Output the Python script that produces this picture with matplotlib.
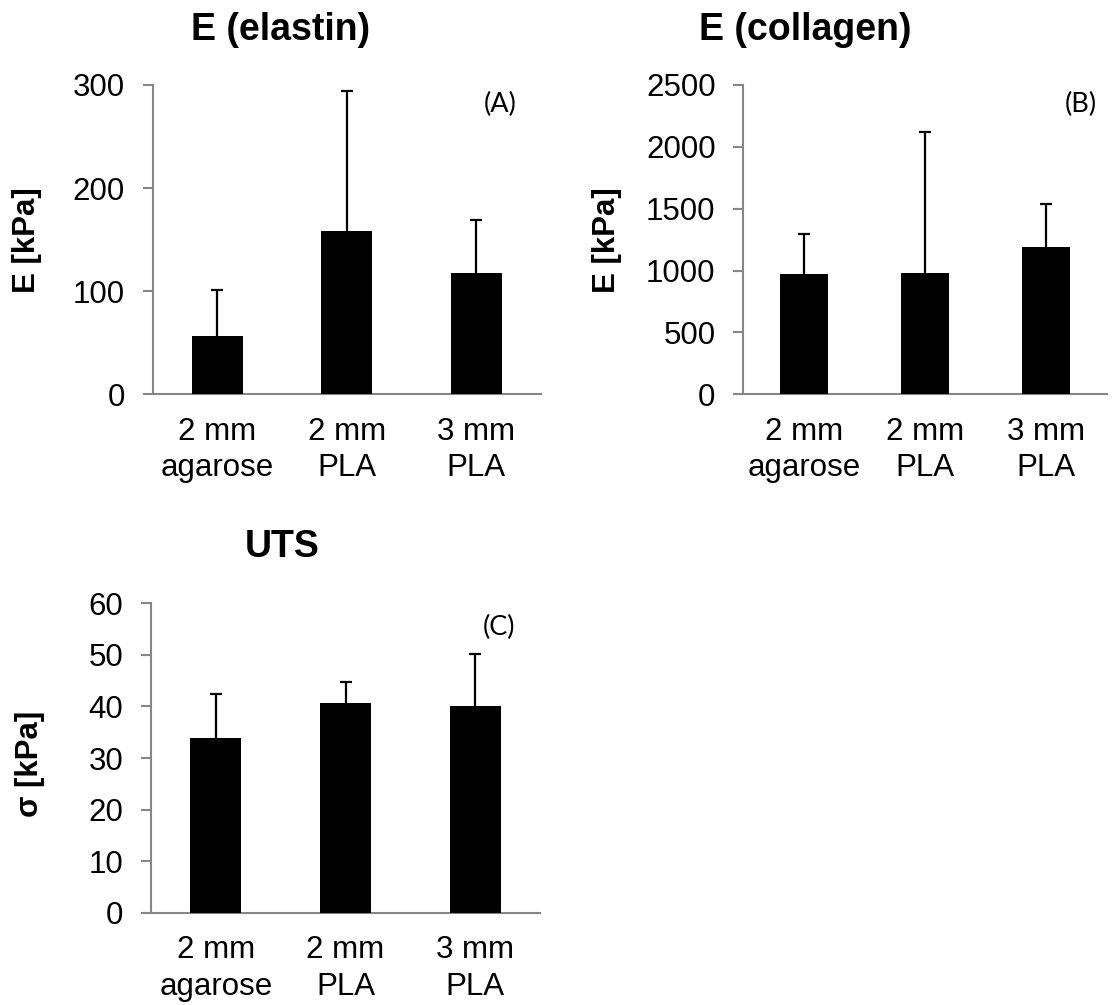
import matplotlib
matplotlib.use("Agg")
import matplotlib.pyplot as plt
import numpy as np

plt.rcParams['font.family'] = ['Liberation Sans', 'DejaVu Sans']

# Sample groups shared by all three panels
categories = ["2 mm\nagarose", "2 mm\nPLA", "3 mm\nPLA"]

# Young's modulus from the elastin region [kPa]
elastin_mean = [57, 158, 118]
elastin_sd = [44, 136, 51]

# Young's modulus from the collagen region [kPa]
collagen_mean = [970, 978, 1193]
collagen_sd = [328, 1144, 347]

# Ultimate tensile strength [kPa]
uts_mean = [33.9, 40.7, 40.0]
uts_sd = [8.5, 4.0, 10.2]

elastin_ticks = [0, 100, 200, 300]
collagen_ticks = [0, 500, 1000, 1500, 2000, 2500]
uts_ticks = [0, 10, 20, 30, 40, 50, 60]

W, H = 1113, 1005
fig = plt.figure(figsize=(W / 100, H / 100), dpi=100)

SPINE = "#868686"


def px_axes(x0, y0, x1, y1):
    """Axes from pixel box (left, top, right, bottom)."""
    return fig.add_axes([x0 / W, 1 - y1 / H, (x1 - x0) / W, (y1 - y0) / H])


def panel(ax, means, sds, ticks, tag, tag_xy):
    x = np.arange(len(categories))
    # upper-only error bars: hide the caps sitting on the bar tops
    _, caps, _ = ax.errorbar(x, means, yerr=[np.zeros(len(sds)), sds],
                             fmt='none', ecolor='black', elinewidth=1.6,
                             capsize=4.3, capthick=1.6, zorder=2)
    for cap in caps:
        if np.allclose(cap.get_ydata(), means):
            cap.set_visible(False)
    ax.bar(x, means, width=0.395, color='black', zorder=3)
    ax.set_xlim(-0.5, len(categories) - 0.5)
    ax.set_ylim(ticks[0], ticks[-1])
    ax.set_yticks(ticks)
    ax.set_yticklabels([str(t) for t in ticks], fontsize=22.5)
    ax.set_xticks(x)
    ax.set_xticklabels(categories, fontsize=22.5, linespacing=1.3)
    ax.tick_params(axis='x', length=0, pad=16)
    ax.tick_params(axis='y', length=7, width=1.5, color=SPINE, pad=13)
    for s in ('top', 'right'):
        ax.spines[s].set_visible(False)
    for s in ('left', 'bottom'):
        ax.spines[s].set_color(SPINE)
        ax.spines[s].set_linewidth(1.5)
    fig.text(tag_xy[0] / W, 1 - tag_xy[1] / H, tag, fontsize=19.5,
             family=['Lato', 'DejaVu Sans'], ha='center', va='center')


axA = px_axes(152.7, 85, 541, 394.3)
panel(axA, elastin_mean, elastin_sd, elastin_ticks, "(A)", (500, 104))

axB = px_axes(743.3, 85, 1106.7, 394.3)
panel(axB, collagen_mean, collagen_sd, collagen_ticks, "(B)", (1081, 104))

axC = px_axes(151, 603.3, 540, 912.7)
panel(axC, uts_mean, uts_sd, uts_ticks, "(C)", (499, 627))

# Panel titles
title_kw = dict(fontsize=27, fontweight='bold', ha='center', va='center')
fig.text(281 / W, 1 - 30 / H, "E (elastin)", **title_kw)
fig.text(805 / W, 1 - 30 / H, "E (collagen)", **title_kw)
fig.text(282 / W, 1 - 547 / H, "UTS", **title_kw)

# Axis labels
ylab_kw = dict(fontsize=22.5, fontweight='bold', ha='center', va='center',
               rotation=90)
fig.text(27 / W, 1 - 240 / H, "E [kPa]", **ylab_kw)
fig.text(607 / W, 1 - 240 / H, "E [kPa]", **ylab_kw)
fig.text(30 / W, 1 - 764 / H, "σ [kPa]", **ylab_kw)

fig.savefig("out.png", dpi=100, facecolor='white')
